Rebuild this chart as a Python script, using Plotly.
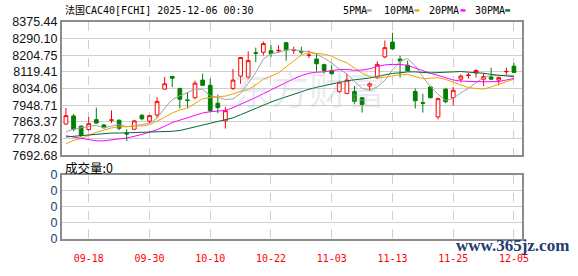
import plotly.graph_objects as go
import pandas as pd

# ---------------- data ----------------
dates = [d.strftime("%m-%d") for d in pd.bdate_range("2025-09-15", "2025-12-05")]

opens = [7852.5, 7893.7, 7841.5, 7824.0, 7874.7, 7847.8, 7871.5, 7871.5, 7804.5, 7825.6,
         7896.9, 7866.8, 7898.5, 8031.6, 8096.6, 8034.8, 7976.0, 7987.3, 8077.6, 8050.7,
         7958.7, 7868.4, 8034.8, 8098.2, 8093.5, 8218.0, 8220.3, 8228.2, 8228.0, 8269.4,
         8231.4, 8225.0, 8204.0, 8185.4, 8156.8, 8125.1, 8019.0, 8009.4, 8019.0, 7987.3,
         8047.5, 8090.3, 8196.5, 8272.5, 8185.4, 8153.7, 8019.0, 7962.0, 8042.7, 7889.0,
         8031.6, 7987.3, 8082.4, 8101.5, 8114.1, 8082.4, 8093.5, 8077.6, 8120.5, 8148.9]
highs = [7934.9, 7903.2, 7844.6, 7889.0, 7936.5, 7850.9, 7922.3, 7876.3, 7825.0, 7873.1,
         7903.3, 7898.5, 7990.4, 8093.5, 8098.5, 8038.0, 8015.8, 8074.4, 8110.9, 8085.5,
         8003.1, 7939.7, 8134.7, 8196.5, 8225.0, 8244.0, 8275.7, 8256.7, 8256.7, 8272.5,
         8248.8, 8248.8, 8229.8, 8212.3, 8161.6, 8153.7, 8074.4, 8110.9, 8047.5, 7990.4,
         8066.5, 8174.3, 8280.5, 8320.1, 8203.0, 8177.5, 8034.8, 8007.9, 8045.9, 7987.3,
         8034.8, 8042.7, 8106.1, 8114.1, 8133.1, 8114.1, 8141.0, 8095.0, 8141.0, 8164.8]
lows = [7847.8, 7816.1, 7784.4, 7819.2, 7855.0, 7828.7, 7857.3, 7820.8, 7765.3, 7820.8,
        7871.5, 7857.3, 7882.6, 8028.0, 8042.7, 7931.8, 7935.0, 7979.3, 8048.0, 7912.8,
        7908.0, 7828.8, 8026.9, 8058.6, 8082.4, 8169.5, 8204.4, 8193.3, 8217.1, 8177.5,
        8212.3, 8209.2, 8190.1, 8122.0, 8110.9, 8101.4, 8011.0, 8005.0, 7955.5, 7911.2,
        8022.1, 8082.4, 8190.1, 8231.3, 8090.3, 8122.0, 7931.8, 7911.2, 7984.1, 7876.3,
        7958.7, 7947.6, 8066.5, 8085.5, 8090.3, 8047.5, 8077.6, 8050.7, 8104.5, 8114.0]
closes = [7895.3, 7825.6, 7793.9, 7854.1, 7857.3, 7833.5, 7873.1, 7830.3, 7801.5, 7868.4,
          7879.5, 7895.3, 7968.2, 8058.6, 8087.1, 7979.3, 7973.0, 8061.8, 8050.7, 7920.7,
          7936.5, 7920.7, 8077.6, 8193.3, 8177.5, 8215.0, 8264.6, 8213.9, 8229.8, 8232.9,
          8232.9, 8222.0, 8206.0, 8161.6, 8126.7, 8110.9, 8066.5, 8077.6, 7968.2, 7952.4,
          8058.6, 8158.4, 8244.0, 8237.7, 8175.9, 8125.1, 7971.4, 7959.0, 7987.3, 7982.5,
          7966.6, 8025.3, 8098.2, 8103.0, 8126.7, 8095.0, 8082.4, 8090.3, 8122.0, 8117.2]
volume = [0, 0, 0, 0, 0, 0, 0, 0, 0, 0, 0, 0, 0, 0, 0, 0, 0, 0, 0, 0,
          0, 0, 0, 0, 0, 0, 0, 0, 0, 0, 0, 0, 0, 0, 0, 0, 0, 0, 0, 0,
          0, 0, 0, 0, 0, 0, 0, 0, 0, 0, 0, 0, 0, 0, 0, 0, 0, 0, 0, 0]

# moving-average values at the left edge (window reaches before the first visible day)
ma5_head = [7812, 7826, 7833, 7839]
ma10_head = [7751, 7768, 7778, 7794, 7810, 7821, 7832, 7838, 7838]
ma20_head = [7792, 7785, 7777, 7771, 7766, 7766, 7772, 7776, 7780, 7789,
             7799, 7811, 7823, 7841, 7860, 7872, 7884, 7898, 7909]
ma30_head = [7786, 7789, 7792, 7797, 7801, 7804, 7806, 7806, 7807, 7808,
             7809, 7810, 7811, 7813, 7815, 7819, 7828, 7838, 7848, 7855,
             7863, 7872, 7884, 7900, 7917, 7933, 7950, 7965, 7979]

price_ticks = [7692.68, 7778.02, 7863.37, 7948.71, 8034.06, 8119.41, 8204.75, 8290.10, 8375.44]
date_ticks = ["09-18", "09-30", "10-10", "10-22", "11-03", "11-13", "11-25", "12-05"]
legend_names = ["5PMA", "10PMA", "20PMA", "30PMA"]
title_text = "法国CAC40[FCHI] 2025-12-06 00:30"
vol_label = "成交量:0"


def moving_avg(head, n):
    out = list(head)
    for i in range(len(head), len(closes)):
        out.append(sum(closes[i - n + 1:i + 1]) / n)
    return out


ma5 = moving_avg(ma5_head, 5)
ma10 = moving_avg(ma10_head, 10)
ma20 = moving_avg(ma20_head, 20)
ma30 = moving_avg(ma30_head, 30)

# ---------------- styling / layout ----------------
W, H = 578, 276
ML, MR, MT, MB = 56, 56, 22, 21
PW, PH = W - ML - MR, H - MT - MB


def px(x):
    return (x - ML) / PW


def py(y):
    return (H - MB - y) / PH


RED = "#ff0000"
GREEN = "#008000"
ma_colors = ["#a0a0a0", "#f0a000", "#ff00ff", "#006b36"]
GRID = "#cfcfcf"
BORDER = "#8c8c8c"
MONO = "DejaVu Sans Mono, Noto Sans CJK SC"

fig = go.Figure()
fig.add_trace(go.Candlestick(
    x=dates, open=opens, high=highs, low=lows, close=closes,
    increasing=dict(line=dict(color=RED, width=1), fillcolor="#ffffff"),
    decreasing=dict(line=dict(color=GREEN, width=1), fillcolor=GREEN),
    whiskerwidth=0, xaxis="x", yaxis="y", hoverinfo="skip", showlegend=False))
for vals, col in zip([ma5, ma10, ma20, ma30], ma_colors):
    fig.add_trace(go.Scatter(x=dates, y=vals, mode="lines", line=dict(color=col, width=1),
                             xaxis="x", yaxis="y", hoverinfo="skip", showlegend=False))
fig.add_trace(go.Bar(x=dates, y=volume, xaxis="x2", yaxis="y2", marker_color=RED,
                     hoverinfo="skip", showlegend=False))

xcommon = dict(type="category", range=[-0.52, 60.06], tickvals=date_ticks,
               showgrid=True, gridcolor=GRID, griddash="dash", gridwidth=1,
               showline=True, mirror=True, linecolor=BORDER, linewidth=2,
               ticks="", zeroline=False, fixedrange=True)
price_tick_text = ["%.2f" % v for v in price_ticks]

fig.update_layout(
    width=W, height=H,
    margin=dict(l=ML, r=MR, t=MT, b=MB, pad=0),
    paper_bgcolor="white", plot_bgcolor="white",
    showlegend=False, bargap=0.3,
    xaxis=dict(domain=[0, 1], anchor="y", showticklabels=False,
               rangeslider=dict(visible=False), **xcommon),
    xaxis2=dict(domain=[0, 1], anchor="y2", showticklabels=True, ticklabelstandoff=9,
                tickfont=dict(family=MONO, size=10, color=RED), **xcommon),
    yaxis=dict(domain=[py(165), 1], anchor="x", range=[7692.5, 8375.6],
               tickvals=price_ticks, ticktext=price_tick_text,
               tickfont=dict(family="Liberation Sans", size=12.5, color="#111111"),
               showgrid=True, gridcolor=GRID, gridwidth=1, zeroline=False,
               showline=True, mirror=True, linecolor=BORDER, linewidth=2, ticks=""),
    yaxis2=dict(domain=[0, py(186)], anchor="x2", range=[0, 1],
                tickvals=[0, 0.25, 0.5, 0.75, 1], ticktext=["0"] * 5,
                tickfont=dict(family="Liberation Sans", size=12.5, color="#1a3a7a"),
                showgrid=True, gridcolor=GRID, gridwidth=1, zeroline=False,
                showline=True, mirror=True, linecolor=BORDER, linewidth=2, ticks=""),
)

annotations = []
shapes = []
# faint background watermark
annotations.append(dict(text="东方财富", x=px(306), y=py(92), xref="paper", yref="paper",
                        showarrow=False, xanchor="center", yanchor="middle",
                        font=dict(family="Noto Sans CJK SC", size=38, color="rgba(180,186,205,0.28)")))
# title
annotations.append(dict(text=title_text, x=px(57), y=py(9.5), xref="paper", yref="paper",
                        showarrow=False, xanchor="left", yanchor="middle",
                        font=dict(family=MONO, size=10, color="#000000")))
# legend
leg_text_x = [338.7, 380, 425.7, 472]
leg_dash_x = [364.7, 413, 459.7, 505]
for name, tx, dx, col in zip(legend_names, leg_text_x, leg_dash_x, ma_colors):
    annotations.append(dict(text=name, x=px(tx), y=py(9.5), xref="paper", yref="paper",
                            showarrow=False, xanchor="left", yanchor="middle",
                            font=dict(family=MONO, size=10, color="#000000")))
    shapes.append(dict(type="rect", xref="paper", yref="paper",
                       x0=px(dx), x1=px(dx + 5), y0=py(10.8), y1=py(8.3),
                       fillcolor=col, line=dict(width=0)))
# volume label
annotations.append(dict(text=vol_label, x=px(57), y=py(178), xref="paper", yref="paper",
                        showarrow=False, xanchor="left", yanchor="middle",
                        font=dict(family="Noto Sans CJK SC", size=12.5, color="#000000")))
# site watermark
annotations.append(dict(text="<b>www.365jz.com</b>", x=px(512.7), y=py(261.5), xref="paper",
                        yref="paper", showarrow=False, xanchor="center", yanchor="middle",
                        font=dict(family="Liberation Serif", size=17, color="#1f3d73")))
fig.update_layout(annotations=annotations, shapes=shapes)

fig.write_html("out.html")
